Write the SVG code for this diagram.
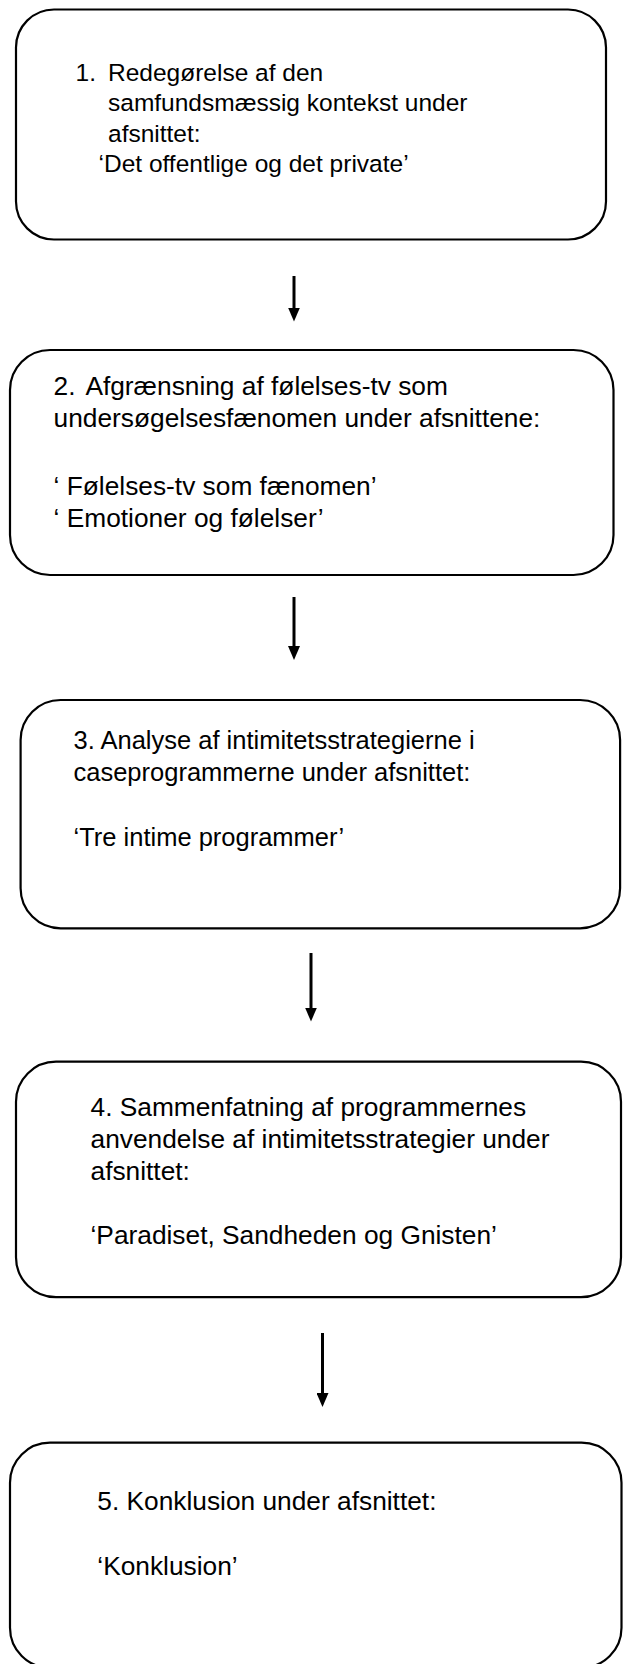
<svg xmlns="http://www.w3.org/2000/svg" width="623" height="1664" viewBox="0 0 623 1664">
<style>
.box{fill:#fff;stroke:#000;stroke-width:2.2}
.t{font-family:"Liberation Sans",Arial,sans-serif;font-size:26.3px;fill:#000}
.t1{font-size:24.5px}
.t3{font-size:25.5px}
.arr{stroke:#000;stroke-width:3;fill:none}
</style>
<defs>
<marker id="ah" markerUnits="userSpaceOnUse" markerWidth="14" markerHeight="12" viewBox="0 0 14 12" refX="4" refY="6" orient="auto">
<path d="M0,0 L14,6 L0,12 z" fill="#000"/>
</marker>
</defs>
<rect width="623" height="1664" fill="#fff"/>
<g id="connectors">
<line class="arr" x1="294" y1="276" x2="294" y2="311.5" marker-end="url(#ah)"/>
<line class="arr" x1="294" y1="597" x2="294" y2="650" marker-end="url(#ah)"/>
<line class="arr" x1="311" y1="953" x2="311" y2="1011.5" marker-end="url(#ah)"/>
<line class="arr" x1="322.5" y1="1333" x2="322.5" y2="1397" marker-end="url(#ah)"/>
</g>
<g id="node1">
<rect class="box" x="16" y="9.5" width="590" height="230" rx="38" ry="38"/>
<text class="t t1" x="75.5" y="81">1.</text>
<text class="t t1" x="108" y="81">Redegørelse af den</text>
<text class="t t1" x="108" y="111.4">samfundsmæssig kontekst under</text>
<text class="t t1" x="108" y="141.8">afsnittet:</text>
<text class="t t1" x="98.5" y="172.2">‘Det offentlige og det private’</text>
</g>
<g id="node2">
<rect class="box" x="10" y="350" width="603.5" height="225" rx="40" ry="40"/>
<text class="t" x="53.6" y="395">2.</text>
<text class="t" x="85.4" y="395">Afgrænsning af følelses-tv som</text>
<text class="t" x="53.6" y="427">undersøgelsesfænomen under afsnittene:</text>
<text class="t" x="53.6" y="495">‘ Følelses-tv som fænomen’</text>
<text class="t" x="53.6" y="526.5">‘ Emotioner og følelser’</text>
</g>
<g id="node3">
<rect class="box" x="20.6" y="700" width="599.5" height="228.3" rx="40" ry="40"/>
<text class="t t3" x="73.5" y="748.5">3. Analyse af intimitetsstrategierne i</text>
<text class="t t3" x="73.5" y="781">caseprogrammerne under afsnittet:</text>
<text class="t t3" x="73.5" y="846">‘Tre intime programmer’</text>
</g>
<g id="node4">
<rect class="box" x="16" y="1061.7" width="605" height="235.5" rx="40" ry="40"/>
<text class="t" x="90.5" y="1116">4. Sammenfatning af programmernes</text>
<text class="t" x="90.5" y="1148">anvendelse af intimitetsstrategier under</text>
<text class="t" x="90.5" y="1180">afsnittet:</text>
<text class="t" x="90.5" y="1244">‘Paradiset, Sandheden og Gnisten’</text>
</g>
<g id="node5">
<rect class="box" x="10" y="1442.7" width="611.5" height="225" rx="40" ry="40"/>
<text class="t" x="97.3" y="1510">5. Konklusion under afsnittet:</text>
<text class="t" x="97.3" y="1575">‘Konklusion’</text>
</g>
</svg>
